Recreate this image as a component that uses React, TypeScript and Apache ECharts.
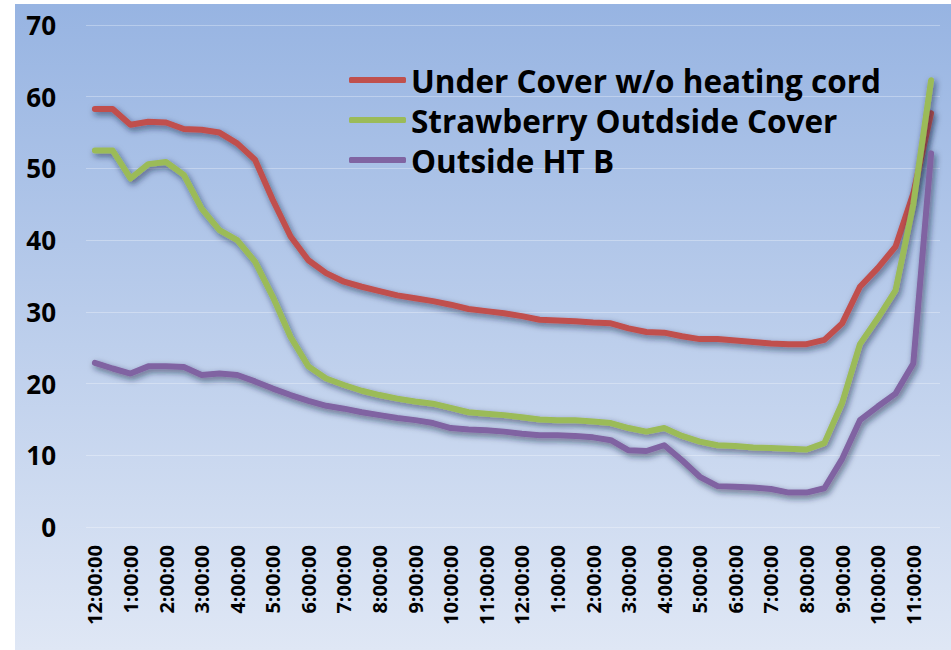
import React, { useEffect, useRef } from "react";
import * as echarts from "echarts";

const categories: string[] = [
  "12:00:00", "12:30:00", "1:00:00", "1:30:00", "2:00:00", "2:30:00", "3:00:00", "3:30:00",
  "4:00:00", "4:30:00", "5:00:00", "5:30:00", "6:00:00", "6:30:00", "7:00:00", "7:30:00",
  "8:00:00", "8:30:00", "9:00:00", "9:30:00", "10:00:00", "10:30:00", "11:00:00", "11:30:00",
  "12:00:00", "12:30:00", "1:00:00", "1:30:00", "2:00:00", "2:30:00", "3:00:00", "3:30:00",
  "4:00:00", "4:30:00", "5:00:00", "5:30:00", "6:00:00", "6:30:00", "7:00:00", "7:30:00",
  "8:00:00", "8:30:00", "9:00:00", "9:30:00", "10:00:00", "10:30:00", "11:00:00", "11:30:00",
];

const underCover: number[] = [
  58.3, 58.3, 56.1, 56.5, 56.4, 55.5, 55.4, 55.0, 53.5, 51.2, 45.6, 40.5,
  37.2, 35.4, 34.2, 33.5, 32.9, 32.3, 31.9, 31.5, 31.0, 30.4, 30.1, 29.8,
  29.4, 28.9, 28.8, 28.7, 28.5, 28.4, 27.7, 27.2, 27.1, 26.6, 26.2, 26.2,
  26.0, 25.8, 25.6, 25.5, 25.5, 26.1, 28.4, 33.5, 36.1, 39.1, 46.5, 57.7,
];

const strawberry: number[] = [
  52.5, 52.5, 48.6, 50.6, 50.9, 49.1, 44.4, 41.4, 40.0, 37.0, 32.1, 26.5,
  22.4, 20.7, 19.8, 19.0, 18.4, 17.9, 17.5, 17.2, 16.6, 16.0, 15.8, 15.6,
  15.3, 15.0, 14.9, 14.9, 14.7, 14.5, 13.8, 13.3, 13.8, 12.7, 11.9, 11.4,
  11.3, 11.1, 11.0, 10.9, 10.8, 11.7, 17.3, 25.5, 29.1, 33.0, 45.0, 62.3,
];

const outsideHTB: number[] = [
  22.9, 22.1, 21.4, 22.4, 22.4, 22.3, 21.2, 21.4, 21.2, 20.3, 19.3, 18.4,
  17.6, 16.9, 16.5, 16.0, 15.6, 15.2, 14.9, 14.5, 13.8, 13.6, 13.5, 13.3,
  13.0, 12.8, 12.8, 12.7, 12.5, 12.1, 10.7, 10.6, 11.4, 9.3, 7.0, 5.7,
  5.6, 5.5, 5.3, 4.8, 4.8, 5.4, 9.5, 14.9, 16.8, 18.6, 22.8, 52.1,
];

const seriesNames: string[] = [
  "Under Cover w/o heating cord",
  "Strawberry Outdside Cover",
  "Outside HT B",
];
const seriesColors: string[] = ["#c0504d", "#9bbb59", "#8064a2"];

const FONT = "'Open Sans', 'Noto Sans', sans-serif";

export default function App() {
  const ref = useRef<HTMLDivElement>(null);

  useEffect(() => {
    if (!ref.current) return;
    const chart = echarts.init(ref.current, undefined, { renderer: "svg" });
    const data = [underCover, strawberry, outsideHTB];
    chart.setOption({
      animation: false,
      backgroundColor: "#ffffff",
      graphic: [
        {
          type: "rect",
          z: -10,
          silent: true,
          shape: { x: 15, y: 4, width: 936, height: 646 },
          style: {
            fill: new echarts.graphic.LinearGradient(0, 0, 0, 1, [
              { offset: 0, color: "#97b4e2" },
              { offset: 1, color: "#dfe7f5" },
            ]),
          },
        },
      ],
      grid: { left: 86, right: 11, top: 25, bottom: 123, containLabel: false },
      legend: {
        orient: "vertical",
        left: 344,
        top: 57,
        padding: 5,
        itemWidth: 57,
        itemHeight: 6,
        itemGap: 4,
        icon: "roundRect",
        textStyle: {
          fontFamily: FONT,
          fontWeight: "bold",
          fontSize: 31.5,
          lineHeight: 36,
          color: "#000",
        },
        data: seriesNames,
      },
      xAxis: {
        type: "category",
        data: categories,
        boundaryGap: true,
        axisLine: { show: false },
        axisTick: { show: false },
        axisLabel: {
          interval: 1,
          rotate: 90,
          margin: 18,
          fontFamily: FONT,
          fontWeight: "bold",
          fontSize: 20,
          color: "#000",
        },
        splitLine: { show: false },
      },
      yAxis: {
        type: "value",
        min: 0,
        max: 70,
        interval: 10,
        axisLine: { show: false },
        axisTick: { show: false },
        axisLabel: {
          margin: 30,
          fontFamily: FONT,
          fontWeight: "bold",
          fontSize: 26,
          color: "#000",
        },
        splitLine: { show: true, lineStyle: { color: "rgba(255,255,255,0.3)", width: 1 } },
      },
      series: seriesNames.map((name, k) => ({
        name,
        type: "line",
        data: data[k],
        showSymbol: false,
        symbol: "none",
        color: seriesColors[k],
        lineStyle: {
          width: 6,
          color: seriesColors[k],
          cap: "round",
          join: "round",
          shadowColor: "rgba(20,30,60,0.6)",
          shadowBlur: 6,
          shadowOffsetX: 2,
          shadowOffsetY: 3,
        },
      })),
    });
    return () => chart.dispose();
  }, []);

  return (
    <div
      ref={ref}
      style={{ position: "fixed", left: 0, top: 0, width: 951, height: 650 }}
    />
  );
}
